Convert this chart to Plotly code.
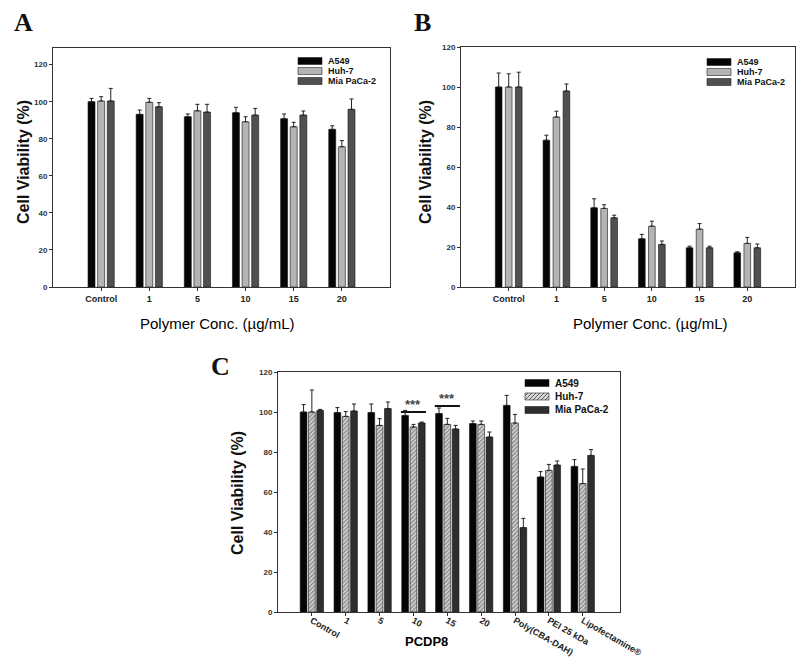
import plotly.graph_objects as go

# ---- data ----
CELLS = ["A549", "Huh-7", "Mia PaCa-2"]
CONC = ["Control", "1", "5", "10", "15", "20"]
C_CATS = ["Control", "1", "5", "10", "15", "20", "Poly(CBA-DAH)", "PEI 25 kDa", "Lipofectamine®"]

A_A549 = [100, 93.2, 91.9, 94.1, 90.8, 85.1]
A_HUH7 = [100.4, 99.7, 95.1, 89.2, 86.5, 75.7]
A_MIA = [100.4, 97.3, 94.4, 92.8, 92.8, 95.9]
A_A549_ERR = [1.8, 2.3, 1.5, 2.9, 2.6, 1.9]
A_HUH7_ERR = [2.3, 2.1, 3.5, 2.7, 2.4, 3.3]
A_MIA_ERR = [6.8, 2.2, 4.2, 3.6, 2.2, 5.6]

B_A549 = [100, 73.4, 39.6, 24.1, 19.6, 17.1]
B_HUH7 = [100, 85, 39.3, 30.4, 28.9, 21.8]
B_MIA = [100, 98, 34.6, 21.3, 19.6, 19.6]
B_A549_ERR = [7, 2.5, 4.5, 2.2, 0.8, 0.5]
B_HUH7_ERR = [6.6, 2.9, 1.8, 2.5, 2.8, 3]
B_MIA_ERR = [7.4, 3.5, 1.3, 1.7, 0.8, 1.9]

C_A549 = [100, 99.7, 99.7, 98.3, 99.2, 94.2, 103.3, 67.5, 72.8]
C_HUH7 = [100, 97.8, 93.3, 92.5, 93.8, 93.8, 94.5, 70.8, 64.2]
C_MIA = [100.8, 100.5, 101.7, 94.5, 91.5, 87.5, 42.2, 73.5, 78.3]
C_A549_ERR = [3.7, 2.5, 4.3, 2.5, 2.8, 1.3, 5, 2.7, 3.4]
C_HUH7_ERR = [11, 2.4, 3.4, 1.3, 3, 1.7, 4.3, 3, 7.3]
C_MIA_ERR = [0.5, 3.5, 3.3, 0.5, 1.8, 2.5, 4.6, 2, 2.9]

SIG_GROUPS = ["10", "15"]   # "***" marks in panel C
SIG_LEVEL = [100, 103]

W, H = 800, 658
FONT = "Liberation Sans"
SERIF = "Liberation Serif"
BLACK = "#050505"
LIGHT = "#b4b4b4"
DARK = "#505050"
DARKER = "#2e2e2e"
HATCH_BG = "#d8d8d8"


def px(x):
    return x / W


def py(y):
    return 1 - y / H


def add_group(fig, axis, cats, series, errs, colors, spacing, width, patterns=None):
    for i, (name, vals, err, col) in enumerate(zip(CELLS, series, errs, colors)):
        marker = dict(color=col, line=dict(color="#111", width=0.6))
        if patterns and patterns[i]:
            marker["pattern"] = patterns[i]
        fig.add_trace(go.Bar(
            x=cats, y=vals, name=name, marker=marker, showlegend=False,
            offset=(i - 1) * spacing - width / 2, width=width,
            error_y=dict(type="data", array=err, arrayminus=[0] * len(err), symmetric=False,
                         color="#222", thickness=1, width=2),
            xaxis="x" + axis, yaxis="y" + axis,
        ))


fig = go.Figure()
add_group(fig, "", CONC, [A_A549, A_HUH7, A_MIA], [A_A549_ERR, A_HUH7_ERR, A_MIA_ERR],
          [BLACK, LIGHT, DARK], 0.2, 0.145)
add_group(fig, "2", CONC, [B_A549, B_HUH7, B_MIA], [B_A549_ERR, B_HUH7_ERR, B_MIA_ERR],
          [BLACK, LIGHT, DARK], 0.21, 0.14)
hatch = dict(shape="/", bgcolor=HATCH_BG, fgcolor="#444", size=3, solidity=0.5)
add_group(fig, "3", C_CATS, [C_A549, C_HUH7, C_MIA], [C_A549_ERR, C_HUH7_ERR, C_MIA_ERR],
          [BLACK, HATCH_BG, DARKER], 0.245, 0.2, patterns=[None, hatch, None])


def xaxis(domain, rng, anchor, angle=0, standoff=0):
    return dict(domain=domain, range=rng, anchor=anchor, type="category", automargin=False,
                showline=True, linecolor="#333", linewidth=1, mirror=True,
                ticks="outside", ticklen=3, tickcolor="#333", tickangle=angle,
                ticklabelstandoff=standoff,
                tickfont=dict(family=FONT, size=9, color="#222", weight="bold"),
                showgrid=False, zeroline=False)


def yaxis(domain, rng, anchor):
    return dict(domain=domain, range=rng, anchor=anchor, dtick=20, automargin=False,
                showline=True, linecolor="#333", linewidth=1, mirror=True,
                ticks="outside", ticklen=3, tickcolor="#333",
                tickfont=dict(family=FONT, size=8, color="#333", weight="bold"),
                showgrid=False, zeroline=False)


fig.update_layout(
    width=W, height=H, barmode="overlay", showlegend=False,
    paper_bgcolor="white", plot_bgcolor="white",
    margin=dict(l=0, r=0, t=0, b=0, autoexpand=False),
    xaxis=xaxis([px(53), px(390)], [-1, 6], "y"),
    yaxis=yaxis([py(287), py(48)], [0, 129], "x"),
    xaxis2=xaxis([px(461), px(795)], [-1, 6], "y2"),
    yaxis2=yaxis([py(287), py(47)], [0, 120], "x2"),
    xaxis3=xaxis([px(278), px(620)], [-1, 9.1], "y3", angle=30, standoff=-4),
    yaxis3=yaxis([py(612), py(372)], [0, 120], "x3"),
)

ann = []
shapes = []

# hand-drawn legends (swatch left, first row y, row step, font size)
LEG_COLORS_AB = [BLACK, LIGHT, DARK]
LEG_COLORS_C = [BLACK, HATCH_BG, DARKER]
for colors, x0, y0, step, fsize, hatched in [(LEG_COLORS_AB, 298, 61, 10, 9, False),
                                             (LEG_COLORS_AB, 707, 62, 10, 9, False),
                                             (LEG_COLORS_C, 525, 383, 13.5, 10, True)]:
    for i, (name, col) in enumerate(zip(CELLS, colors)):
        yc = y0 + i * step
        shapes.append(dict(type="rect", xref="paper", yref="paper",
                           x0=px(x0), x1=px(x0 + 24), y0=py(yc + 3.5), y1=py(yc - 3.5),
                           fillcolor=col, line=dict(color="#222", width=0.6)))
        if hatched and i == 1:
            path = ""
            for k in range(0, 28, 4):
                xa, xb = x0 + k - 4, x0 + k + 3
                xa_c, xb_c = max(xa, x0), min(xb, x0 + 24)
                ya = yc + 3.5 - (xa_c - xa)
                yb = yc + 3.5 - (xb_c - xa)
                if xb_c > xa_c:
                    path += "M%f,%f L%f,%f " % (px(xa_c), py(ya), px(xb_c), py(yb))
            shapes.append(dict(type="path", xref="paper", yref="paper", path=path,
                               line=dict(color="#444", width=0.8)))
        ann.append(dict(text=name, x=px(x0 + 28), y=py(yc), xref="paper", yref="paper",
                        xanchor="left", yanchor="middle", showarrow=False,
                        font=dict(family=FONT, size=fsize, color="#111", weight="bold")))

for letter, x, y in [("A", 12, 6), ("B", 412, 6), ("C", 209, 350)]:
    ann.append(dict(text="<b>%s</b>" % letter, x=px(x), y=py(y), xref="paper", yref="paper",
                    xanchor="left", yanchor="top", showarrow=False,
                    font=dict(family=SERIF, size=26, color="#111")))
for x, y in [(23, 162), (425, 162), (237, 493)]:
    ann.append(dict(text="<b>Cell Viability (%)</b>", x=px(x), y=py(y), xref="paper", yref="paper",
                    xanchor="center", yanchor="middle",
                    textangle=-90, showarrow=False, font=dict(family=FONT, size=16, color="#111")))
for text, x, y, size in [("Polymer Conc. (µg/mL)", 217, 323, 15), ("Polymer Conc. (µg/mL)", 650, 323, 15),
                         ("<b>PCDP8</b>", 427, 641, 13)]:
    ann.append(dict(text=text, x=px(x), y=py(y), xref="paper", yref="paper", showarrow=False,
                    xanchor="center", yanchor="middle",
                    font=dict(family=FONT, size=size, color="#000")))

for g, lvl in zip(SIG_GROUPS, SIG_LEVEL):
    i = C_CATS.index(g)
    shapes.append(dict(type="line", xref="x3", yref="y3", x0=i - 0.37, x1=i + 0.37, y0=lvl, y1=lvl,
                       line=dict(color="#111", width=2)))
    ann.append(dict(text="<b>***</b>", x=i, y=lvl, xref="x3", yref="y3", yanchor="bottom", yshift=-2,
                    showarrow=False, font=dict(family=FONT, size=13, color="#444")))

fig.update_layout(annotations=ann, shapes=shapes)
fig.write_html("out.html", config={"displayModeBar": False},
               post_script="document.body.style.margin='0px';")
